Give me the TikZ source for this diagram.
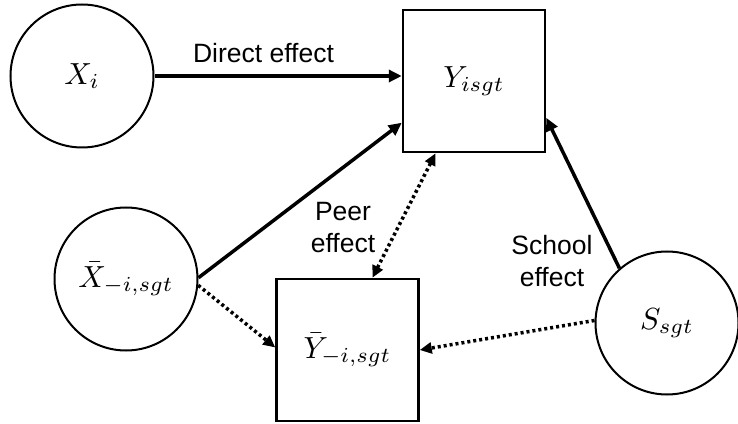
\documentclass[tikz,border=0pt]{standalone}
\usepackage{graphicx}
\usepackage{fontspec}
\setmainfont{Liberation Sans}
\usetikzlibrary{arrows.meta}
\newcommand{\nodemath}[1]{\scalebox{3.05}{$#1$}}
\begin{document}
\begin{tikzpicture}[x=1pt,y=1pt,
  circ/.style={circle,draw,line width=2pt,minimum size=143pt,inner sep=0pt},
  sq/.style={rectangle,draw,line width=2.5pt,minimum width=142pt,minimum height=142pt,inner sep=0pt},
  arr/.style={line width=3.5pt,-{Triangle[length=13pt,width=12pt]}},
  darr/.style={line width=3.5pt,dash pattern=on 3pt off 3pt,-{Triangle[length=12pt,width=11pt]}},
  ddarr/.style={line width=3.5pt,dash pattern=on 3pt off 3pt,{Triangle[length=12pt,width=11pt]}-{Triangle[length=12pt,width=11pt]}},
  lbl/.style={font=\fontsize{26.5}{32}\selectfont,align=center,inner sep=0pt}]
\useasboundingbox (0,0) rectangle (738,423);
\node[circ] (Xi) at (82,347) {\nodemath{X_i}};
\node[circ] (Xb) at (126,144) {\nodemath{\bar{X}_{-i,sgt}}};
\node[circ] (S) at (667,100) {\nodemath{S_{sgt}}};
\node[sq] (Y) at (474,342) {\nodemath{Y_{isgt}}};
\node[sq] (Yb) at (347.5,73) {\nodemath{\bar{Y}_{-i,sgt}}};
\draw[arr] (Xi.east) -- (Xi.east -| Y.west);
\draw[arr] (Xb.1) -- (Y.210);
\draw[arr] (S.131) -- (Y.-27);
\draw[darr] (Xb.-5) -- (Yb.178);
\draw[darr] (S.178) -- (Yb.east);
\draw[ddarr] (Y.242.5) -- (Yb.71);
\node[lbl,anchor=base] (ld) at (263.5,360.7) {Direct effect};
\node[lbl] (lp) at (343,195) {Peer\\effect};
\node[lbl] (ls) at (552,162) {School\\effect};
\end{tikzpicture}
\end{document}
